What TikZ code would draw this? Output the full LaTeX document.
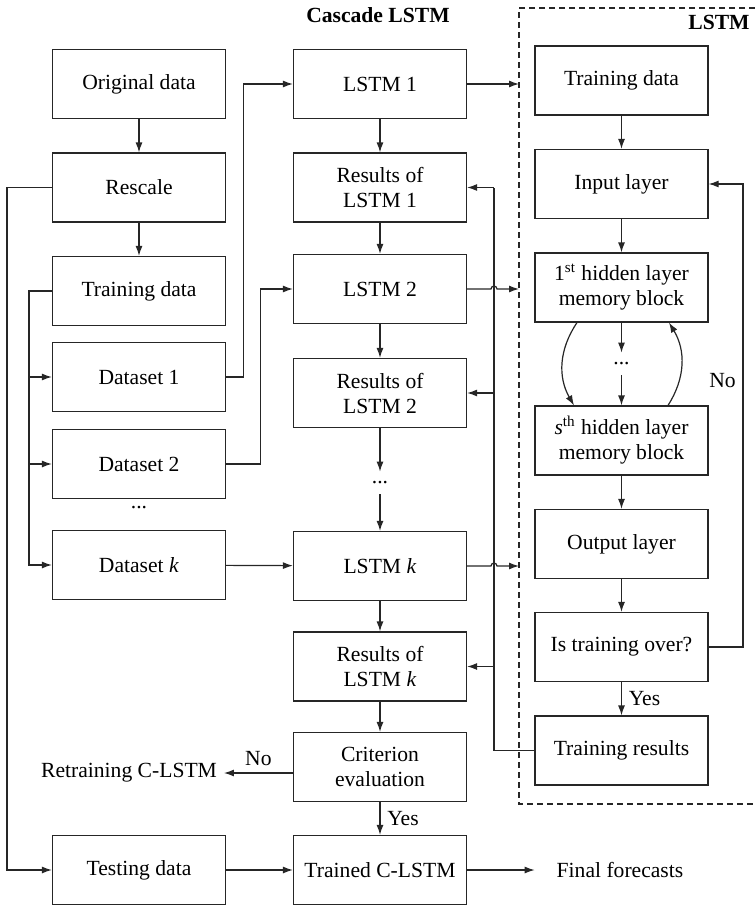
\documentclass[tikz,border=0pt]{standalone}
\usepackage{fontspec}
\setmainfont{Liberation Serif}
\usetikzlibrary{arrows.meta}

\begin{document}
\begin{tikzpicture}[x=0.5pt, y=-0.5pt,
  font=\fontsize{10.8}{12.5}\selectfont,
  box/.style={draw=boxline, line width=0.6pt, minimum width=86.5pt, minimum height=34.5pt, align=center, inner sep=0pt},
  dotsnode/.style={inner sep=0pt, minimum height=11pt},
  arr/.style={-{Latex[length=5pt,width=3.5pt]}, line width=0.6pt, draw=boxline},
  link/.style={line width=0.6pt, draw=boxline},
  heading/.style={font=\fontsize{10.8}{12.5}\selectfont\bfseries}]

% Define the colors
\colorlet{boxline}{black!85}

\useasboundingbox (0,0) rectangle (755,905);

% Draw the titles
\node[heading] (title) at (378,15) {Cascade LSTM};
\node[heading] (inner) at (719,22) {LSTM};

% Draw the dashed frame
\draw[boxline, line width=0.6pt, dash pattern=on 3pt off 2pt] (755,8) -- (519,8) -- (519,804) -- (755,804);

% Draw the data column
\node[box] (orig) at (139,84) {Original data};
\node[box] (rescale) at (139,187.5) {Rescale};
\node[box] (train) at (139,291) {Training data};
\node[box] (set1) at (139,377) {Dataset 1};
\node[box] (set2) at (139,464) {Dataset 2};
\node[dotsnode] (setdots) at (139,508) {...};
\node[box] (setk) at (139,565) {Dataset \textit{k}};
\node[box] (test) at (139,870) {Testing data};

% Draw the cascade column
\node[box] (lstm1) at (380,84) {LSTM 1};
\node[box] (res1) at (380,187.5) {Results of\\LSTM 1};
\node[box] (lstm2) at (380,289) {LSTM 2};
\node[box] (res2) at (380,393) {Results of\\LSTM 2};
\node[dotsnode] (lstmdots) at (380,483) {...};
\node[box] (lstmk) at (380,566) {LSTM \textit{k}};
\node[box] (resk) at (380,666.5) {Results of\\LSTM \textit{k}};
\node[box] (crit) at (380,767) {Criterion\\evaluation};
\node[box] (trained) at (380,870) {Trained C-LSTM};

% Draw the LSTM column
\node[box] (tdata) at (621.5,80.5) {Training data};
\node[box] (input) at (621.5,184) {Input layer};
\node[box] (hid1) at (621.5,287.5) {1\textsuperscript{st} hidden layer\\memory block};
\node[dotsnode] (hiddots) at (621.5,364) {...};
\node[box] (hids) at (621.5,440.5) {\textit{s}\textsuperscript{th} hidden layer\\memory block};
\node[box] (output) at (621.5,544) {Output layer};
\node[box] (over) at (621.5,647) {Is training over?};
\node[box] (tres) at (621.5,750.5) {Training results};

% Draw the free texts
\node (retrain) at (129,773) {Retraining C-LSTM};
\node (final) at (620,870) {Final forecasts};

% Draw the bus positions
\coordinate (tbus) at (29,0);
\coordinate (rbus) at (7,0);
\coordinate (backbus) at (494,0);
\coordinate (nobus) at (743,0);
\coordinate (frame) at (519,0);

% Draw the data flow
\draw[arr] (orig) -- (rescale);
\draw[arr] (rescale) -- (train);
\draw[arr] (train.west) -- (train.west -| tbus) |- (setk.west);
\draw[arr] (set1.west -| tbus) -- (set1.west);
\draw[arr] (set2.west -| tbus) -- (set2.west);
\draw[arr] (rescale.west) -- (rescale.west -| rbus) |- (test.west);

% Draw the datasets into the cascade
\draw[arr] (set1.east) -- ++(17,0) |- (lstm1.west);
\draw[arr] (set2.east) -- ++(34,0) |- (lstm2.west);
\draw[arr] (setk) -- (lstmk);

% Draw the cascade flow
\draw[arr] (lstm1) -- (res1);
\draw[arr] (res1) -- (lstm2);
\draw[arr] (lstm2) -- (res2);
\draw[arr] (res2) -- (lstmdots);
\draw[arr] (lstmdots) -- (lstmk);
\draw[arr] (lstmk) -- (resk);
\draw[arr] (resk) -- (crit);
\draw[arr] (crit) -- node[right] {Yes} (trained);
\draw[arr] (crit.west |- retrain.east) -- node[above] {No} (retrain.east);
\draw[arr] (test) -- (trained);
\draw[arr, shorten >=7.5pt] (trained) -- (final);

% Draw the LSTM flow
\draw[arr] (tdata) -- (input);
\draw[arr] (input) -- (hid1);
\draw[arr] (hid1) -- (hiddots);
\draw[arr] (hiddots) -- (hids);
\draw[arr] ([xshift=-22.25pt]hid1.south) to[bend right=32] ([xshift=-23.75pt]hids.north);
\draw[arr] ([xshift=23.25pt]hids.north) to[bend right=32] ([xshift=23.75pt]hid1.south);
\draw[arr] (hids) -- (output);
\draw[arr] (output) -- (over);
\draw[arr] (over) -- node[right] {Yes} (tres);
\draw[arr] (over.east) -- (over.east -| nobus) -- node[left, pos=0.575] {No} (input.east -| nobus) -- (input.east);

% Draw the links into the frame
\draw[arr] (lstm1.east) -- (lstm1.east -| frame);
\draw[arr] (lstm2.east) -- ([xshift=-1.5pt]lstm2.east -| backbus) arc[start angle=180, end angle=0, radius=1.5pt] -- (lstm2.east -| frame);
\draw[arr] (lstmk.east) -- ([xshift=-1.5pt]lstmk.east -| backbus) arc[start angle=180, end angle=0, radius=1.5pt] -- (lstmk.east -| frame);

% Draw the training results back
\draw[link] (tres.west) -- (tres.west -| backbus) -- (res1.east -| backbus);
\draw[arr] (res1.east -| backbus) -- (res1.east);
\draw[arr] (res2.east -| backbus) -- (res2.east);
\draw[arr] (resk.east -| backbus) -- (resk.east);

\end{tikzpicture}
\end{document}
